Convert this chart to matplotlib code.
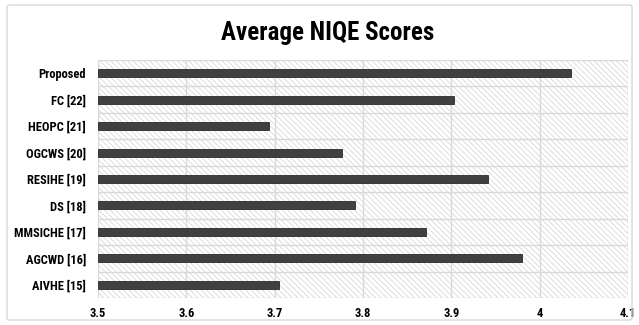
import matplotlib.pyplot as plt
from matplotlib.patches import Rectangle, FancyBboxPatch

methods = ['AIVHE [15]', 'AGCWD [16]', 'MMSICHE [17]', 'DS [18]', 'RESIHE [19]',
           'OGCWS [20]', 'HEOPC [21]', 'FC [22]', 'Proposed']
niqe = [3.705, 3.980, 3.871, 3.791, 3.942, 3.776, 3.694, 3.903, 4.035]
ticks = [3.5, 3.6, 3.7, 3.8, 3.9, 4.0, 4.1]
tick_labels = ['3.5', '3.6', '3.7', '3.8', '3.9', '4', '4.1']

plt.rcParams['font.family'] = ['Roboto Condensed', 'DejaVu Sans']
plt.rcParams['hatch.linewidth'] = 0.5

fig = plt.figure(figsize=(6.39, 3.25), dpi=100)
# outer chart border
fig.patches.append(FancyBboxPatch((7 / 639, 5 / 325), 625 / 639, 315 / 325,
                                  boxstyle='round,pad=0,rounding_size=0.005',
                                  transform=fig.transFigure, fill=False,
                                  edgecolor='#d9d9d9', linewidth=1.0))

ax = fig.add_axes([0.1534, 0.0831, 0.8294, 0.7323])
ax.set_xlim(3.5, 4.1)
ax.set_ylim(-0.5, len(methods) - 0.5)

# hatched plot area
ax.add_patch(Rectangle((0, 0), 1, 1, transform=ax.transAxes, facecolor='white',
                       hatch='\\\\\\\\\\\\', edgecolor='#d0d0d0', linewidth=0, zorder=0))

for y in [i - 0.5 for i in range(len(methods) + 1)]:
    ax.axhline(y, color='#d9d9d9', linewidth=1.0, zorder=1)
for x in ticks:
    ax.axvline(x, color='#d9d9d9', linewidth=1.0, zorder=1)

ax.barh(range(len(methods)), [v - 3.5 for v in niqe], left=3.5, height=0.3,
        color='#404040', edgecolor='#2a2a2a', linewidth=0.6, zorder=3)

ax.set_yticks(range(len(methods)))
ax.set_yticklabels(methods, fontsize=9, fontweight='bold')
ax.set_xticks(ticks)
ax.set_xticklabels(tick_labels, fontsize=9, fontweight='bold')
ax.tick_params(axis='y', length=0, pad=8.5)
ax.tick_params(axis='x', length=0, pad=6.5)
for s in ax.spines.values():
    s.set_visible(False)

fig.text(0.512, 0.898, 'Average NIQE Scores', ha='center', va='center',
         fontsize=18, fontweight='bold')

fig.savefig('out.png', dpi=100)
